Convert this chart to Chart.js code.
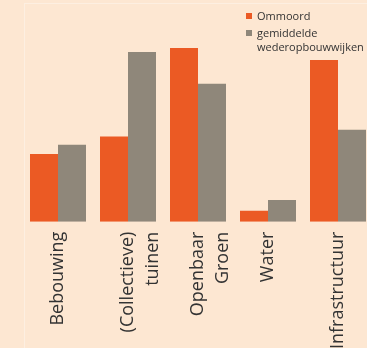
<!DOCTYPE html>
<html>
<head>
<meta charset="utf-8">
<script src="https://cdn.jsdelivr.net/npm/chart.js@4"></script>
<style>
  html, body { margin: 0; padding: 0; background: #fde7d2; overflow: hidden; }
  #wrap { position: relative; width: 367px; height: 348px; overflow: hidden; }
  #panel { position: absolute; left: 24px; top: 3px; width: 400px; height: 400px;
           border-left: 1px solid #fdefe1; border-top: 1px solid #fdefe1; }
  #box { position: absolute; left: 0; top: 0; width: 380px; height: 359px; }
  #legend { position: absolute; left: 246px; top: 9px; font-family: "Open Sans", sans-serif;
            font-size: 11px; color: #333; line-height: 14px; white-space: nowrap; }
  #legend .item { position: relative; padding-left: 11px; margin-bottom: 3px; }
  #legend .sw { position: absolute; left: 0; top: 4px; width: 6px; height: 6px; }
</style>
</head>
<body>
<div id="wrap">
  <div id="panel"></div>
  <div id="box"><canvas id="chart"></canvas></div>
  <div id="legend"></div>
</div>
<script>
var categories = [
  "Bebouwing",
  ["(Collectieve)", "tuinen"],
  ["Openbaar", "Groen"],
  "Water",
  "Infrastructuur"
];
var seriesNames = ["Ommoord", "gemiddelde wederopbouwwijken"];
var legendLines = [["Ommoord"], ["gemiddelde", "wederopbouwwijken"]];
var ommoord = [16.8, 21.1, 43.1, 2.7, 40.1];
var gemiddeld = [19.1, 42.1, 34.2, 5.4, 22.8];
var colors = ["#eb5a24", "#8f877a"];

var legend = document.getElementById("legend");
for (var i = 0; i < legendLines.length; i++) {
  var div = document.createElement("div");
  div.className = "item";
  var sw = document.createElement("span");
  sw.className = "sw";
  sw.style.background = colors[i];
  div.appendChild(sw);
  for (var j = 0; j < legendLines[i].length; j++) {
    if (j > 0) div.appendChild(document.createElement("br"));
    div.appendChild(document.createTextNode(legendLines[i][j]));
  }
  legend.appendChild(div);
}

new Chart(document.getElementById("chart"), {
  type: 'bar',
  data: {
    labels: categories,
    datasets: [
      { label: seriesNames[0], backgroundColor: colors[0], data: ommoord,
        borderWidth: 0, categoryPercentage: 0.8, barPercentage: 1.0 },
      { label: seriesNames[1], backgroundColor: colors[1], data: gemiddeld,
        borderWidth: 0, categoryPercentage: 0.8, barPercentage: 1.0 }
    ]
  },
  options: {
    responsive: true,
    maintainAspectRatio: false,
    animation: false,
    layout: { padding: { left: 23, right: 7, top: 0, bottom: 0 } },
    plugins: { legend: { display: false }, tooltip: { enabled: false } },
    scales: {
      y: { display: false, min: 0, max: 55 },
      x: {
        grid: { display: false, drawTicks: false },
        border: { display: false },
        ticks: {
          minRotation: 90, maxRotation: 90, autoSkip: false,
          padding: 10, labelOffset: 0,
          color: "#333",
          font: { family: "Open Sans", size: 18, lineHeight: 1.4 }
        }
      }
    }
  }
});
</script>
</body>
</html>
